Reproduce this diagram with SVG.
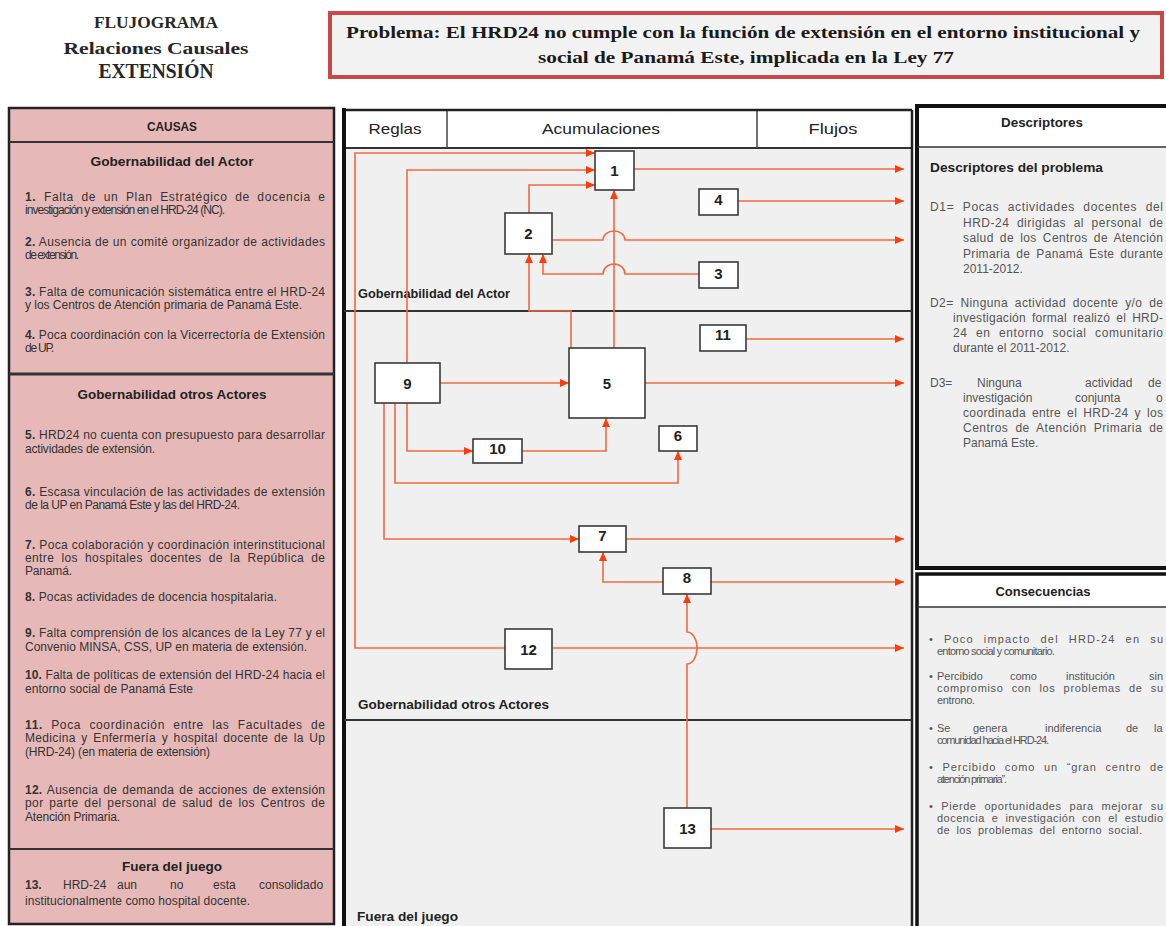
<svg xmlns="http://www.w3.org/2000/svg" width="1166" height="926" viewBox="0 0 1166 926">
<style>
.ttl{font-family:"Liberation Serif","Times New Roman",serif;font-weight:bold;fill:#262626;text-anchor:middle}
.prb{font-family:"Liberation Serif","Times New Roman",serif;font-weight:bold;font-size:17px;fill:#1a1a1a}
.lt{font-family:"Liberation Sans",Arial,sans-serif;font-size:12px;fill:#333}
.rt{font-family:"Liberation Sans",Arial,sans-serif;font-size:12px;fill:#555}
.ct{font-family:"Liberation Sans",Arial,sans-serif;font-size:11px;fill:#555}
.hd{font-family:"Liberation Sans",Arial,sans-serif;font-size:13px;font-weight:bold;fill:#222}
.ch{font-family:"Liberation Sans",Arial,sans-serif;font-size:15px;fill:#222;text-anchor:middle}
.sec{font-family:"Liberation Sans",Arial,sans-serif;font-size:12px;font-weight:bold;fill:#222}
.box rect{fill:#fff;stroke:#3a3a3a;stroke-width:1.6}
.box text{font-family:"Liberation Sans",Arial,sans-serif;font-size:15px;font-weight:bold;fill:#222;text-anchor:middle}
.con path{fill:none;stroke:#f4683e;stroke-width:1.6}
.b{font-weight:bold}
</style>
<defs>
<marker id="ah" markerUnits="userSpaceOnUse" markerWidth="10" markerHeight="9" refX="9" refY="4" orient="auto">
<path d="M0,0 L9,4 L0,8 z" fill="#ff3d0a"/>
</marker>
</defs>
<rect width="1166" height="926" fill="#fff"/>

<g id="title">
<text class="ttl" x="156" y="28" font-size="17" textLength="124" lengthAdjust="spacingAndGlyphs">FLUJOGRAMA</text>
<text class="ttl" x="156" y="54" font-size="17" textLength="185" lengthAdjust="spacingAndGlyphs">Relaciones Causales</text>
<text class="ttl" x="156" y="78" font-size="20" textLength="115" lengthAdjust="spacingAndGlyphs">EXTENSIÓN</text>
</g>

<g id="problema">
<rect x="330" y="13" width="832" height="64" fill="#f2f2f2" stroke="#c8484a" stroke-width="4"/>
<text class="prb" x="346" y="38" textLength="794" lengthAdjust="spacingAndGlyphs">Problema: El HRD24 no cumple con la función de extensión en el entorno institucional y</text>
<text class="prb" x="746" y="63" text-anchor="middle" textLength="416" lengthAdjust="spacingAndGlyphs">social de Panamá Este, implicada en la Ley 77</text>
</g>

<g id="causas">
<rect x="9" y="108" width="325" height="816" fill="#e6b9b8" stroke="#222" stroke-width="2.5"/>
<line x1="9" y1="142" x2="334" y2="142" stroke="#333" stroke-width="2"/>
<line x1="9" y1="374" x2="334" y2="374" stroke="#333" stroke-width="3"/>
<line x1="9" y1="849" x2="334" y2="849" stroke="#333" stroke-width="2"/>
<text class="hd" x="172" y="131" text-anchor="middle" font-size="12" textLength="50" lengthAdjust="spacingAndGlyphs">CAUSAS</text>
<text class="hd" x="172" y="166" text-anchor="middle" textLength="163" lengthAdjust="spacingAndGlyphs">Gobernabilidad del Actor</text>
<text class="lt" x="25" y="201" word-spacing="3.5" textLength="300" lengthAdjust="spacing"><tspan class="b">1.</tspan> Falta de un Plan Estratégico de docencia e</text>
<text class="lt" x="25" y="214" textLength="200" lengthAdjust="spacing">investigación y extensión en el HRD-24 (NC).</text>
<text class="lt" x="25" y="246" textLength="300" lengthAdjust="spacing"><tspan class="b">2.</tspan> Ausencia de un comité organizador de actividades</text>
<text class="lt" x="25" y="259" textLength="54" lengthAdjust="spacing">de extensión.</text>
<text class="lt" x="25" y="296" textLength="300" lengthAdjust="spacing"><tspan class="b">3.</tspan> Falta de comunicación sistemática entre el HRD-24</text>
<text class="lt" x="25" y="309" textLength="277" lengthAdjust="spacing">y los Centros de Atención primaria de Panamá Este.</text>
<text class="lt" x="25" y="339" textLength="300" lengthAdjust="spacing"><tspan class="b">4.</tspan> Poca coordinación con la Vicerrectoría de Extensión</text>
<text class="lt" x="25" y="352" textLength="29" lengthAdjust="spacing">de UP.</text>
<text class="hd" x="172" y="399" text-anchor="middle" textLength="189" lengthAdjust="spacingAndGlyphs">Gobernabilidad otros Actores</text>
<text class="lt" x="25" y="439" textLength="300" lengthAdjust="spacing"><tspan class="b">5.</tspan> HRD24 no cuenta con presupuesto para desarrollar</text>
<text class="lt" x="25" y="453" textLength="130" lengthAdjust="spacing">actividades de extensión.</text>
<text class="lt" x="25" y="496" textLength="300" lengthAdjust="spacing"><tspan class="b">6.</tspan> Escasa vinculación de las actividades de extensión</text>
<text class="lt" x="25" y="509" textLength="215" lengthAdjust="spacing">de la UP en Panamá Este y las del  HRD-24.</text>
<text class="lt" x="25" y="549" textLength="300" lengthAdjust="spacing"><tspan class="b">7.</tspan> Poca colaboración y coordinación interinstitucional</text>
<text class="lt" x="25" y="562" word-spacing="3.5" textLength="300" lengthAdjust="spacing">entre los hospitales docentes de la República de</text>
<text class="lt" x="25" y="575" textLength="47" lengthAdjust="spacing">Panamá.</text>
<text class="lt" x="25" y="601" textLength="252" lengthAdjust="spacing"><tspan class="b">8.</tspan> Pocas actividades de docencia hospitalaria.</text>
<text class="lt" x="25" y="637" textLength="300" lengthAdjust="spacing"><tspan class="b">9.</tspan> Falta comprensión de los alcances de la Ley 77 y el</text>
<text class="lt" x="25" y="651" textLength="282" lengthAdjust="spacing">Convenio MINSA, CSS, UP en materia de extensión.</text>
<text class="lt" x="25" y="679" textLength="300" lengthAdjust="spacing"><tspan class="b">10.</tspan> Falta de políticas de extensión del HRD-24 hacia el</text>
<text class="lt" x="25" y="693" textLength="168" lengthAdjust="spacing">entorno social de Panamá Este</text>
<text class="lt" x="25" y="729" word-spacing="4.4" textLength="300" lengthAdjust="spacing"><tspan class="b">11.</tspan> Poca coordinación entre las Facultades de</text>
<text class="lt" x="25" y="742" word-spacing="2" textLength="300" lengthAdjust="spacing">Medicina y Enfermería y  hospital docente de la Up</text>
<text class="lt" x="25" y="756" textLength="185" lengthAdjust="spacing">(HRD-24) (en materia de extensión)</text>
<text class="lt" x="25" y="794" word-spacing="1.5" textLength="300" lengthAdjust="spacing"><tspan class="b">12.</tspan> Ausencia de demanda de acciones de extensión</text>
<text class="lt" x="25" y="807" word-spacing="2" textLength="300" lengthAdjust="spacing">por parte del personal de salud de los Centros de</text>
<text class="lt" x="25" y="821" textLength="95" lengthAdjust="spacing">Atención Primaria.</text>
<text class="hd" x="172" y="871" text-anchor="middle" textLength="100" lengthAdjust="spacingAndGlyphs">Fuera del juego</text>
<text class="lt" y="889"><tspan class="b" x="25">13.</tspan><tspan x="63">HRD-24</tspan><tspan x="117">aun</tspan><tspan x="170">no</tspan><tspan x="213">esta</tspan><tspan x="259">consolidado</tspan></text>
<text class="lt" x="25" y="905" textLength="225" lengthAdjust="spacing">institucionalmente como hospital docente.</text>
</g>

<g id="flujo-marco">
<rect x="344" y="110" width="568" height="820" fill="#f0f0f0"/>
<rect x="344" y="110" width="568" height="38" fill="#fff"/>
<line x1="344" y1="148" x2="912" y2="148" stroke="#333" stroke-width="2"/>
<line x1="447" y1="110" x2="447" y2="148" stroke="#444" stroke-width="1.5"/>
<line x1="757" y1="110" x2="757" y2="148" stroke="#444" stroke-width="1.5"/>
<line x1="344" y1="110" x2="912" y2="110" stroke="#222" stroke-width="2.5"/>
<line x1="344" y1="108" x2="344" y2="926" stroke="#111" stroke-width="4"/>
<line x1="912" y1="110" x2="912" y2="926" stroke="#222" stroke-width="2.5"/>
<line x1="344" y1="311" x2="912" y2="311" stroke="#333" stroke-width="2"/>
<line x1="344" y1="720" x2="912" y2="720" stroke="#333" stroke-width="2"/>
<text class="ch" x="395" y="134" textLength="53" lengthAdjust="spacingAndGlyphs">Reglas</text>
<text class="ch" x="601" y="134" textLength="118" lengthAdjust="spacingAndGlyphs">Acumulaciones</text>
<text class="ch" x="833" y="134" textLength="49" lengthAdjust="spacingAndGlyphs">Flujos</text>
<text class="sec" x="358" y="298" textLength="152" lengthAdjust="spacingAndGlyphs">Gobernabilidad del Actor</text>
<text class="sec" x="358" y="709" textLength="191" lengthAdjust="spacingAndGlyphs">Gobernabilidad otros Actores</text>
<text class="sec" x="357" y="921" textLength="101" lengthAdjust="spacingAndGlyphs">Fuera del juego</text>
</g>

<g id="conectores" class="con">
<path d="M505,648 H355 V153 H595" marker-end="url(#ah)"/>
<path d="M407,363 V170 H595" marker-end="url(#ah)"/>
<path d="M529,213 V185 H595" marker-end="url(#ah)"/>
<path d="M614,348 V190" marker-end="url(#ah)"/>
<path d="M571,348 V311 H529 V254" marker-end="url(#ah)"/>
<path d="M699,274 H625 A11,10 0 0 0 603,274 H543 V254" marker-end="url(#ah)"/>
<path d="M552,240 H603 A11,9 0 0 1 625,240 H904" marker-end="url(#ah)"/>
<path d="M634,169 H904" marker-end="url(#ah)"/>
<path d="M738,201 H904" marker-end="url(#ah)"/>
<path d="M746,339 H904" marker-end="url(#ah)"/>
<path d="M440,383 H569" marker-end="url(#ah)"/>
<path d="M645,383 H904" marker-end="url(#ah)"/>
<path d="M407,403 V451 H473" marker-end="url(#ah)"/>
<path d="M522,451 H606 V418" marker-end="url(#ah)"/>
<path d="M395,403 V483 H678 V451" marker-end="url(#ah)"/>
<path d="M384,403 V539 H579" marker-end="url(#ah)"/>
<path d="M626,539 H904" marker-end="url(#ah)"/>
<path d="M663,582 H603 V552" marker-end="url(#ah)"/>
<path d="M711,582 H904" marker-end="url(#ah)"/>
<path d="M552,648 H904" marker-end="url(#ah)"/>
<path d="M687,808 V664 A10,16 0 0 0 687,632 V594" marker-end="url(#ah)"/>
<path d="M711,829 H904" marker-end="url(#ah)"/>
</g>

<g id="n1" class="box"><rect x="595" y="151" width="39" height="39"/><text x="614.5" y="176">1</text></g>
<g id="n2" class="box"><rect x="505" y="213" width="47" height="41"/><text x="528.5" y="239">2</text></g>
<g id="n3" class="box"><rect x="699" y="262" width="39" height="26"/><text x="718.5" y="279">3</text></g>
<g id="n4" class="box"><rect x="699" y="189" width="39" height="26"/><text x="718.5" y="205">4</text></g>
<g id="n5" class="box"><rect x="569" y="348" width="76" height="70"/><text x="607" y="389">5</text></g>
<g id="n6" class="box"><rect x="659" y="426" width="38" height="25"/><text x="678" y="441">6</text></g>
<g id="n7" class="box"><rect x="579" y="526" width="47" height="26"/><text x="602.5" y="541">7</text></g>
<g id="n8" class="box"><rect x="663" y="568" width="48" height="26"/><text x="687" y="583">8</text></g>
<g id="n9" class="box"><rect x="375" y="363" width="65" height="40"/><text x="407.5" y="389">9</text></g>
<g id="n10" class="box"><rect x="473" y="439" width="49" height="24"/><text x="497.5" y="454">10</text></g>
<g id="n11" class="box"><rect x="700" y="325" width="46" height="26"/><text x="723" y="340">11</text></g>
<g id="n12" class="box"><rect x="505" y="629" width="47" height="40"/><text x="528.5" y="655">12</text></g>
<g id="n13" class="box"><rect x="664" y="808" width="47" height="40"/><text x="687.5" y="834">13</text></g>

<g id="descriptores">
<rect x="917" y="106" width="253" height="462" fill="#f0f0f0" stroke="#111" stroke-width="4"/>
<rect x="919" y="108" width="249" height="38" fill="#fff"/>
<line x1="917" y1="147" x2="1166" y2="147" stroke="#333" stroke-width="1.5"/>
<text class="hd" x="1042" y="127" text-anchor="middle" textLength="82" lengthAdjust="spacingAndGlyphs">Descriptores</text>
<text class="hd" x="930" y="172" font-size="12" textLength="173" lengthAdjust="spacingAndGlyphs">Descriptores del problema</text>
<text class="rt" x="930" y="211" word-spacing="4.5" textLength="233" lengthAdjust="spacing">D1= Pocas actividades docentes del</text>
<text class="rt" x="963" y="227" word-spacing="3.7" textLength="200" lengthAdjust="spacing">HRD-24 dirigidas al personal de</text>
<text class="rt" x="963" y="242" word-spacing="2.4" textLength="200" lengthAdjust="spacing">salud de los Centros de Atención</text>
<text class="rt" x="963" y="258" word-spacing="2.4" textLength="200" lengthAdjust="spacing">Primaria de Panamá Este durante</text>
<text class="rt" x="963" y="273">2011-2012.</text>
<text class="rt" x="930" y="307" word-spacing="3" textLength="233" lengthAdjust="spacing">D2= Ninguna actividad docente y/o de</text>
<text class="rt" x="953" y="322" word-spacing="2.4" textLength="210" lengthAdjust="spacing">investigación formal realizó el HRD-</text>
<text class="rt" x="953" y="337" word-spacing="4.6" textLength="210" lengthAdjust="spacing">24 en entorno social comunitario</text>
<text class="rt" x="953" y="352">durante el 2011-2012.</text>
<text class="rt" y="387"><tspan x="930">D3=</tspan><tspan x="977">Ninguna</tspan><tspan x="1085">actividad</tspan><tspan x="1148">de</tspan></text>
<text class="rt" y="402"><tspan x="963">investigación</tspan><tspan x="1075">conjunta</tspan><tspan x="1156">o</tspan></text>
<text class="rt" x="963" y="417" word-spacing="2.3" textLength="200" lengthAdjust="spacing">coordinada entre el HRD-24 y los</text>
<text class="rt" x="963" y="432" word-spacing="3.3" textLength="200" lengthAdjust="spacing">Centros de Atención Primaria de</text>
<text class="rt" x="963" y="447">Panamá Este.</text>
</g>

<g id="consecuencias">
<rect x="917" y="574" width="253" height="360" fill="#f0f0f0" stroke="#111" stroke-width="3.5"/>
<rect x="919" y="576" width="249" height="31" fill="#fff"/>
<line x1="917" y1="607" x2="1166" y2="607" stroke="#333" stroke-width="1.5"/>
<text class="hd" x="1043" y="596" text-anchor="middle" textLength="95" lengthAdjust="spacingAndGlyphs">Consecuencias</text>
<text class="ct" x="929" y="643" word-spacing="5.8" textLength="234" lengthAdjust="spacing">• Poco impacto del HRD-24 en su</text>
<text class="ct" x="937" y="655" textLength="118" lengthAdjust="spacing">entorno social y comunitario.</text>
<text class="ct" y="680"><tspan x="929">•</tspan><tspan x="937">Percibido</tspan><tspan x="1010">como</tspan><tspan x="1066">institución</tspan><tspan x="1149">sin</tspan></text>
<text class="ct" x="937" y="692" word-spacing="4.4" textLength="226" lengthAdjust="spacing">compromiso con los problemas de su</text>
<text class="ct" x="937" y="704" textLength="38" lengthAdjust="spacing">entrono.</text>
<text class="ct" y="732"><tspan x="929">•</tspan><tspan x="937">Se</tspan><tspan x="973">genera</tspan><tspan x="1045">indiferencia</tspan><tspan x="1126">de</tspan><tspan x="1154">la</tspan></text>
<text class="ct" x="937" y="744" textLength="112" lengthAdjust="spacing">comunidad hacia el HRD-24.</text>
<text class="ct" x="929" y="771" word-spacing="4.8" textLength="234" lengthAdjust="spacing">• Percibido como un “gran centro de</text>
<text class="ct" x="937" y="783" textLength="70" lengthAdjust="spacing">atención primaria”.</text>
<text class="ct" x="929" y="810" word-spacing="4.2" textLength="234" lengthAdjust="spacing">• Pierde oportunidades para mejorar su</text>
<text class="ct" x="937" y="822" word-spacing="3.5" textLength="226" lengthAdjust="spacing">docencia e investigación con el estudio</text>
<text class="ct" x="937" y="834" word-spacing="2.9" textLength="205" lengthAdjust="spacing">de los problemas del entorno social.</text>
</g>
</svg>
